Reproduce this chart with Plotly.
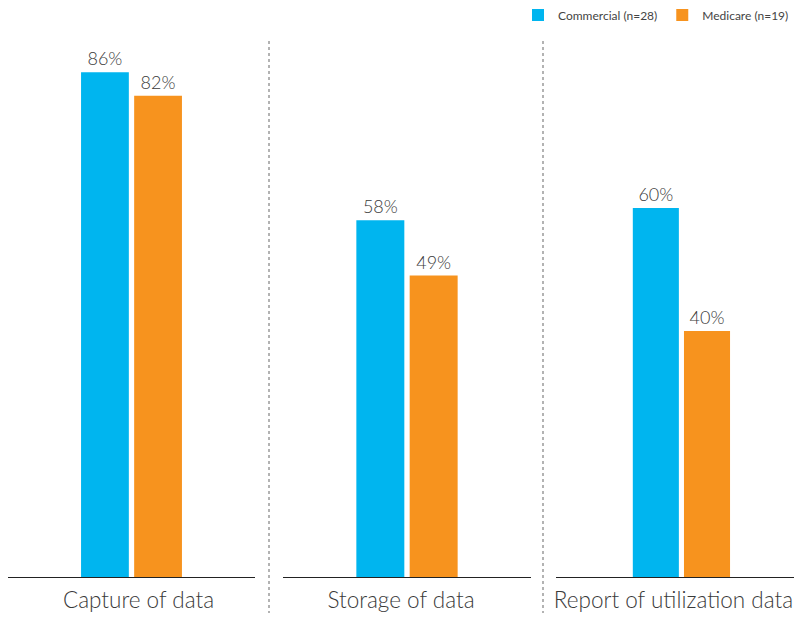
import plotly.graph_objects as go

categories = ["Capture of data", "Storage of data", "Report of utilization data"]
commercial = [86, 58, 60]
medicare = [82, 49, 40]
series_names = ["Commercial (n=28)", "Medicare (n=19)"]
colors = ["#00B5EF", "#F7931E"]

# page body has an 8px margin; figure placed at (8,8) in the window
OFF = 8
W, H = 802 - 2 * OFF, 621 - 2 * OFF
BASE = 577 - OFF           # baseline y inside figure
TOP = 40 - OFF
BOT = H - BASE
domains_px = [(0, 255 - OFF), (283 - OFF, 531 - OFF), (556 - OFF, W)]
ranges = [91.5, 87.3, 87.3]
xranges = [[-0.5, 0.5], [-0.5, 0.5], [-0.527, 0.473]]
label_shift = [7, -6, -8]
TXT = "#3a3a3a"

fig = go.Figure()
for i, cat in enumerate(categories):
    ax = "" if i == 0 else str(i + 1)
    for j, (vals, name) in enumerate([(commercial, series_names[0]), (medicare, series_names[1])]):
        fig.add_trace(go.Bar(
            x=[cat], y=[vals[i]], name=name,
            marker=dict(color=colors[j], line=dict(width=0)),
            text=[f"{vals[i]}%"], textposition="outside",
            textfont=dict(size=18, color=TXT, weight=300),
            cliponaxis=False,
            showlegend=(i == 0), legendgroup=name,
            xaxis="x" + ax, yaxis="y" + ax,
        ))

plot_h = H - TOP - BOT
layout = dict(
    width=W, height=H,
    margin=dict(l=0, r=0, t=TOP, b=BOT, autoexpand=False),
    paper_bgcolor="white", plot_bgcolor="white",
    barmode="group", bargap=0.57, bargroupgap=0.10,
    font=dict(family="Lato, sans-serif", color=TXT),
    legend=dict(orientation="h", x=1, xanchor="right", y=1 + (TOP - 7) / plot_h,
                yanchor="middle",
                font=dict(size=12, color="#444444"), itemwidth=30,
                bgcolor="rgba(0,0,0,0)"),
)
for i in range(3):
    ax = "" if i == 0 else str(i + 1)
    x0, x1 = domains_px[i]
    layout["xaxis" + ax] = dict(
        domain=[x0 / W, x1 / W], anchor="y" + ax,
        range=xranges[i],
        showline=True, linecolor="#222222", linewidth=1,
        showgrid=False, zeroline=False,
        ticks="outside", ticklen=3, tickcolor="rgba(0,0,0,0)",
        ticklabelshift=label_shift[i],
        tickfont=dict(size=22.5, color=TXT, weight=300), automargin=False,
    )
    layout["yaxis" + ax] = dict(
        domain=[0, 1], anchor="x" + ax, range=[0, ranges[i]],
        visible=False, showgrid=False, zeroline=False, fixedrange=True,
    )
fig.update_layout(**layout)

for xp in (269 - OFF, 543 - OFF):
    fig.add_shape(type="line", xref="paper", yref="paper",
                  x0=xp / W, x1=xp / W, y0=-(620 - 577) / plot_h, y1=1.0,
                  line=dict(color="#9a9a9a", width=1.5, dash="dot"))

fig.write_html("out.html")
